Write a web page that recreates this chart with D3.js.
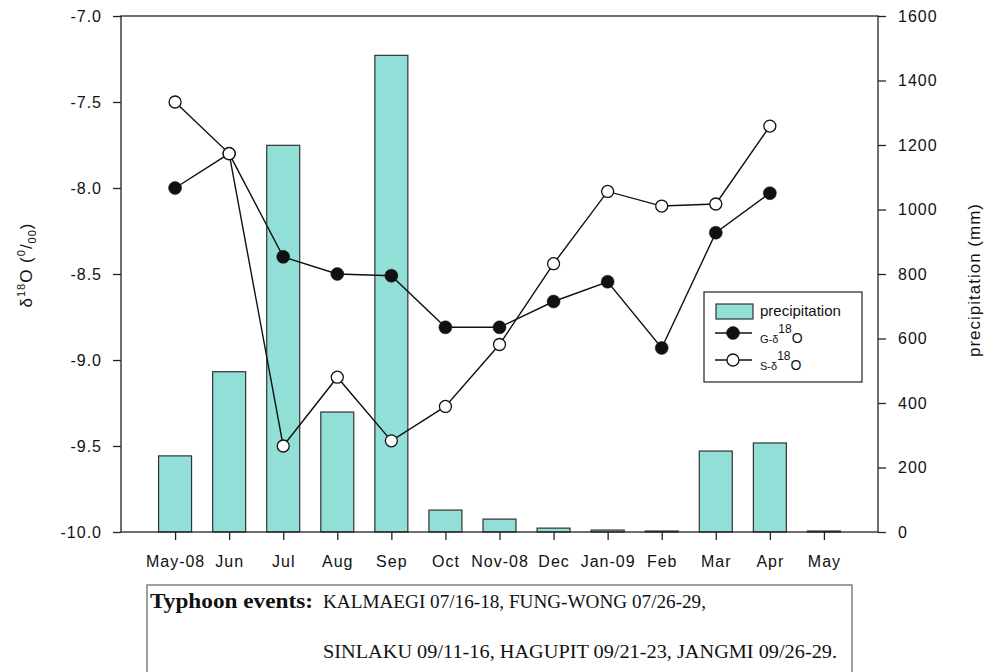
<!DOCTYPE html>
<html lang="en">
<head>
  <meta charset="UTF-8">
  <title>Oxygen isotopes and precipitation</title>
  <script src="https://d3js.org/d3.v7.min.js"></script>
  <style>
    body { margin: 0; background: #fff; }
    svg { display: block; }
    .tick text { font-family: "Liberation Sans", Arial, sans-serif; font-size: 16px; letter-spacing: 1px; fill: #111; }
    .tick line { stroke: #222; stroke-width: 1.3px; }
    .title { font-family: "Liberation Sans", Arial, sans-serif; font-size: 17px; letter-spacing: 1px; fill: #111; }
    .legend text { font-family: "Liberation Sans", Arial, sans-serif; fill: #111; }
    .note { font-family: "Liberation Serif", "Times New Roman", serif; fill: #111; }
  </style>
</head>
<body>
  <svg width="997" height="672"></svg>
  <script>
    // months on the x axis
    const months = ["May-08", "Jun", "Jul", "Aug", "Sep", "Oct", "Nov-08", "Dec", "Jan-09", "Feb", "Mar", "Apr", "May"];
    // monthly precipitation (mm)
    const precip = [236, 497, 1199, 372, 1478, 68, 40, 12, 6, 3, 251, 276, 3];
    // G-d18O and S-d18O (per mil); no sample in the last month
    const gO18 = [-8.0, -7.8, -8.4, -8.5, -8.51, -8.81, -8.81, -8.66, -8.545, -8.93, -8.26, -8.03, null];
    const sO18 = [-7.5, -7.8, -9.5, -9.1, -9.47, -9.27, -8.91, -8.44, -8.02, -8.105, -8.093, -7.64, null];
    const leftTicks = [-7.0, -7.5, -8.0, -8.5, -9.0, -9.5, -10.0];
    const rightTicks = [0, 200, 400, 600, 800, 1000, 1200, 1400, 1600];

    const plot = { left: 121, right: 878, top: 16, bottom: 532 };
    const svg = d3.select("svg");

    const x = d3.scalePoint()
      .domain(months)
      .range([plot.left, plot.right])
      .padding(1);

    const yL = d3.scaleLinear().domain([-10, -7]).range([plot.bottom, plot.top]);
    const yR = d3.scaleLinear().domain([0, 1600]).range([plot.bottom, plot.top]);

    const barW = x.step() * 0.61;

    // bars
    svg.append("g")
      .selectAll("rect")
      .data(months.map((m, i) => ({ m, v: precip[i] })))
      .enter().append("rect")
      .attr("x", d => x(d.m) - barW / 2)
      .attr("y", d => yR(d.v))
      .attr("width", barW)
      .attr("height", d => yR(0) - yR(d.v))
      .attr("fill", "#92dfd8")
      .attr("stroke", "#333")
      .attr("stroke-width", 1.2);

    // axes (plain hyphen minus, no thousands comma)
    const axL = svg.append("g")
      .attr("transform", `translate(${plot.left},0)`)
      .call(d3.axisLeft(yL).tickValues(leftTicks).tickFormat(d => d.toFixed(1)).tickSize(8).tickPadding(11));
    const axR = svg.append("g")
      .attr("transform", `translate(${plot.right},0)`)
      .call(d3.axisRight(yR).tickValues(rightTicks).tickFormat(d => String(d)).tickSize(8).tickPadding(12));
    const axB = svg.append("g")
      .attr("transform", `translate(0,${plot.bottom})`)
      .call(d3.axisBottom(x).tickSize(8).tickPadding(16));
    [axL, axR, axB].forEach(a => a.select(".domain").remove());

    // frame
    svg.append("rect")
      .attr("x", plot.left).attr("y", plot.top)
      .attr("width", plot.right - plot.left).attr("height", plot.bottom - plot.top)
      .attr("fill", "none").attr("stroke", "#222").attr("stroke-width", 1.3);

    // lines
    function series(vals, filled) {
      const pts = months.map((m, i) => ({ m, v: vals[i] })).filter(d => d.v != null);
      svg.append("path")
        .datum(pts)
        .attr("fill", "none")
        .attr("stroke", "#111")
        .attr("stroke-width", 1.4)
        .attr("d", d3.line().x(d => x(d.m)).y(d => yL(d.v)));
      svg.append("g")
        .selectAll("circle")
        .data(pts)
        .enter().append("circle")
        .attr("cx", d => x(d.m))
        .attr("cy", d => yL(d.v))
        .attr("r", filled ? 6.5 : 6)
        .attr("fill", filled ? "#111" : "#fff")
        .attr("stroke", "#111")
        .attr("stroke-width", filled ? 0.5 : 1.3);
    }
    series(gO18, true);
    series(sO18, false);

    // axis titles
    const tl = svg.append("text")
      .attr("class", "title")
      .attr("transform", "translate(32,265) rotate(-90)")
      .attr("text-anchor", "middle");
    tl.append("tspan").text("δ");
    tl.append("tspan").attr("font-size", "11px").attr("dy", "-7").text("18");
    tl.append("tspan").attr("dy", "7").text("O (");
    tl.append("tspan").attr("font-size", "11px").attr("dy", "-7").text("0");
    tl.append("tspan").attr("dy", "7").text("/");
    tl.append("tspan").attr("font-size", "11px").attr("dy", "4").text("00");
    tl.append("tspan").attr("dy", "-4").text(")");

    svg.append("text")
      .attr("class", "title")
      .attr("transform", "translate(980,280) rotate(-90)")
      .attr("text-anchor", "middle")
      .text("precipitation (mm)");

    // legend
    const lg = svg.append("g").attr("class", "legend");
    lg.append("rect")
      .attr("x", 704).attr("y", 292).attr("width", 158).attr("height", 90)
      .attr("fill", "#fff").attr("stroke", "#222").attr("stroke-width", 1.2);
    lg.append("rect")
      .attr("x", 716).attr("y", 304).attr("width", 37).attr("height", 15)
      .attr("fill", "#92dfd8").attr("stroke", "#333").attr("stroke-width", 1.2);
    lg.append("text").attr("x", 760).attr("y", 316).attr("font-size", "15px").text("precipitation");

    [["G", 333, true], ["S", 360, false]].forEach(([name, yy, filled]) => {
      lg.append("line")
        .attr("x1", 715).attr("x2", 752).attr("y1", yy).attr("y2", yy)
        .attr("stroke", "#111").attr("stroke-width", 1.4);
      lg.append("circle")
        .attr("cx", 733).attr("cy", yy).attr("r", filled ? 6.5 : 6)
        .attr("fill", filled ? "#111" : "#fff")
        .attr("stroke", "#111").attr("stroke-width", filled ? 0.5 : 1.3);
      const t = lg.append("text").attr("x", 760).attr("y", yy + 10);
      t.append("tspan").attr("font-size", "11px").text(name + "-δ");
      t.append("tspan").attr("font-size", "12px").attr("dy", "-10").text("18");
      t.append("tspan").attr("font-size", "14px").attr("dy", "10").text("O");
    });

    // typhoon note
    svg.append("rect")
      .attr("x", 147).attr("y", 585).attr("width", 705).attr("height", 110)
      .attr("fill", "none").attr("stroke", "#808080").attr("stroke-width", 1.5);
    svg.append("text").attr("class", "note")
      .attr("x", 150).attr("y", 608)
      .attr("font-size", "22px").attr("font-weight", "bold")
      .attr("textLength", 163).attr("lengthAdjust", "spacingAndGlyphs")
      .text("Typhoon events:");
    svg.append("text").attr("class", "note")
      .attr("x", 323).attr("y", 608)
      .attr("font-size", "18.5px")
      .attr("textLength", 383).attr("lengthAdjust", "spacingAndGlyphs")
      .text("KALMAEGI 07/16-18, FUNG-WONG 07/26-29,");
    svg.append("text").attr("class", "note")
      .attr("x", 323).attr("y", 658)
      .attr("font-size", "18.5px")
      .attr("textLength", 514).attr("lengthAdjust", "spacingAndGlyphs")
      .text("SINLAKU 09/11-16, HAGUPIT 09/21-23, JANGMI 09/26-29.");
  </script>
</body>
</html>
